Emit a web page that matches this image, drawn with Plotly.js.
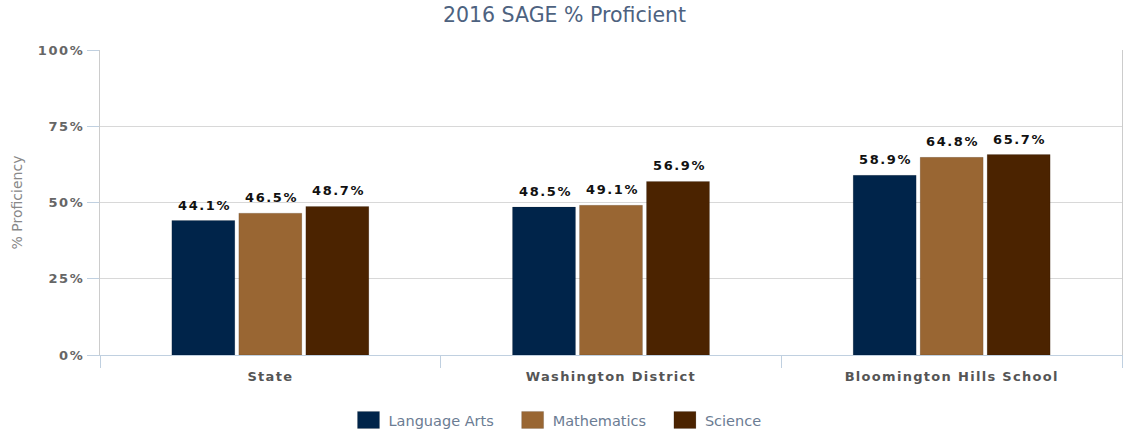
<!DOCTYPE html>
<html><head><meta charset="utf-8">
<script src="https://cdn.plot.ly/plotly-3.0.1.min.js"></script>
<style>
html,body{margin:0;padding:0;background:#fff;}
#chart .ytick text{letter-spacing:1.6px;}
#chart .xtick text{letter-spacing:1.3px;}
#chart .annotation-text{letter-spacing:1.6px;}
</style>
</head><body>
<div id="chart" style="width:1129px;height:433px;"></div>
<script>
const categories = ["State", "Washington District", "Bloomington Hills School"];
const languageArts = [44.1, 48.5, 58.9];
const mathematics = [46.5, 49.1, 64.8];
const science = [48.7, 56.9, 65.7];
const seriesNames = ["Language Arts", "Mathematics", "Science"];
const seriesColors = ["#00244a", "#996633", "#4b2300"];
const tickVals = [0, 25, 50, 75, 100];
const tickText = ["0%", "25%", "50%", "75%", "100%"];

const allSeries = [languageArts, mathematics, science];
const traces = allSeries.map((vals, i) => ({
  type: "bar",
  name: seriesNames[i] + "\u00a0\u00a0\u00a0",
  x: categories,
  y: vals,
  marker: {color: seriesColors[i], line: {color: "rgba(0,0,0,0.12)", width: 1}},
  hoverinfo: "none"
}));

// value labels above each bar, offset by slot within group
const slotShift = [-67, 0, 67];
const annotations = [];
allSeries.forEach((vals, i) => {
  vals.forEach((v, j) => {
    annotations.push({
      xref: "x", yref: "y", x: categories[j], y: v,
      text: v.toFixed(1) + "%", showarrow: false,
      xanchor: "center", yanchor: "bottom", xshift: slotShift[i] + 1, yshift: 6,
      font: {family: "DejaVu Sans", size: 13, color: "#111", weight: "bold"}
    });
  });
});

const layout = {
  width: 1129, height: 433,
  margin: {l: 100, r: 7, t: 50, b: 78},
  paper_bgcolor: "#fff", plot_bgcolor: "#fff",
  title: {text: "2016 SAGE % Proficient", x: 0.5, xanchor: "center", y: 0.965, yanchor: "middle",
          font: {family: "DejaVu Sans", size: 20.5, color: "#4d6280"}},
  barmode: "group",
  bargap: 0.41,
  bargroupgap: 0.06,
  showlegend: true,
  legend: {orientation: "h", xref: "container", yref: "container", x: 0.5, xanchor: "center", y: 0.03, yanchor: "middle",
           font: {family: "DejaVu Sans", size: 14.5, color: "#6b7c93"},
           traceorder: "normal"},
  annotations: annotations,
  xaxis: {
    type: "category",
    tickson: "boundaries",
    ticks: "outside", ticklen: 12, tickcolor: "#c0d0e0",
    ticklabelstandoff: 9,
    showline: true, linecolor: "#c0d0e0", linewidth: 1,
    showgrid: false,
    tickfont: {family: "DejaVu Sans", size: 13, color: "#555", weight: "bold"}
  },
  yaxis: {
    range: [0, 100],
    tickvals: tickVals, ticktext: tickText,
    ticks: "outside", ticklen: 12, tickcolor: "#c0d0e0",
    showline: true, mirror: true, linecolor: "#ccc", linewidth: 1,
    gridcolor: "#d8d8d8", gridwidth: 1,
    zeroline: false,
    tickfont: {family: "DejaVu Sans", size: 13, color: "#666", weight: "bold"},
    title: {text: "% Proficiency", standoff: 18, font: {family: "DejaVu Sans", size: 14, color: "#888"}}
  }
};

Plotly.newPlot("chart", traces, layout, {displayModeBar: false, staticPlot: true}).then(gd => {
  // enlarge legend swatches to match the reference's wider squares
  gd.querySelectorAll(".legendpoints path").forEach(p => {
    p.setAttribute("d", "M11,8.5H-11V-8.5H11Z");
  });
});
</script>
</body></html>
